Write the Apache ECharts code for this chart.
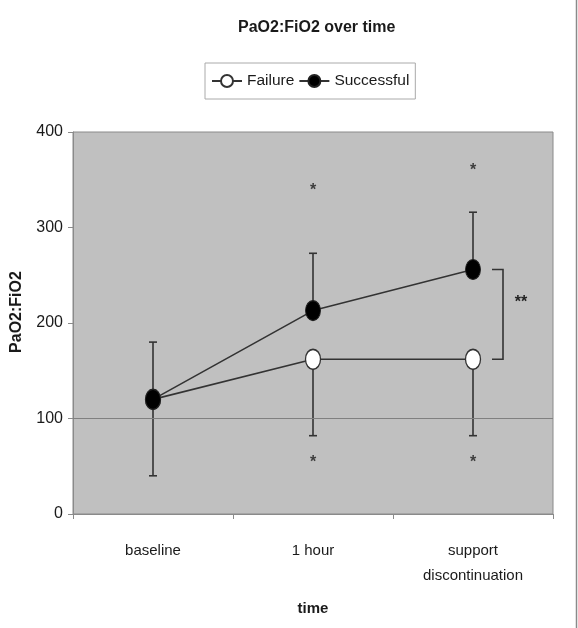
<!DOCTYPE html>
<html><head><meta charset="utf-8">
<script src="https://cdn.jsdelivr.net/npm/echarts@6/dist/echarts.min.js"></script>
<style>html,body{margin:0;padding:0;background:#fff}#c{width:578px;height:628px}</style>
</head><body><div id="c"></div>
<script>
var categories = ['baseline', '1 hour', 'support\ndiscontinuation'];
var failure = [120, 162, 162];
var successful = [120, 213, 256];
var failureSD = [80, 80, 80];      // lower error bar
var successfulSD = [60, 60, 60];   // upper error bar
var starTop = [null, 343, 364];
var starBottom = [null, 58, 58];
var yTicks = [0, 100, 200, 300, 400];
var bracket = [2, 256, 162];

var FONT = 'Liberation Sans, Arial, sans-serif';
var ELLIPSE = 'path://M0,-1A1,1,0,1,1,0,1A1,1,0,1,1,0,-1Z';

var errData = [];
for (var i = 0; i < categories.length; i++) {
  errData.push([i, successful[i], successful[i] + successfulSD[i], 'up']);
  errData.push([i, failure[i], failure[i] - failureSD[i], 'down']);
}
var starData = [];
for (var j = 0; j < categories.length; j++) {
  if (starTop[j] != null) starData.push([j, starTop[j]]);
  if (starBottom[j] != null) starData.push([j, starBottom[j]]);
}

var chart = echarts.init(document.getElementById('c'), null, {renderer: 'canvas'});
chart.setOption({
  animation: false,
  textStyle: {fontFamily: FONT},
  title: {
    text: 'PaO2:FiO2 over time', left: 233, top: 15,
    textStyle: {fontFamily: FONT, fontSize: 16, fontWeight: 'bold', color: '#1a1a1a'}
  },
  legend: {
    top: 63, left: 205,
    data: ['Failure', 'Successful'],
    borderColor: '#aaa', borderWidth: 1, padding: [10, 6],
    itemGap: 4, itemWidth: 30, itemHeight: 15,
    textStyle: {fontFamily: FONT, fontSize: 15.5, color: '#1a1a1a'}
  },
  graphic: [{
    type: 'line', shape: {x1: 576.5, y1: 0, x2: 576.5, y2: 628},
    style: {stroke: '#8a8a8a', lineWidth: 1.5}, silent: true
  }],
  grid: {
    left: 73, right: 25, top: 132, bottom: 114,
    show: true, backgroundColor: '#c0c0c0', borderColor: '#8a8a8a', borderWidth: 1
  },
  xAxis: {
    type: 'category', data: categories, boundaryGap: true,
    name: 'time', nameLocation: 'middle', nameGap: 87,
    nameTextStyle: {fontFamily: FONT, fontSize: 15, fontWeight: 'bold', color: '#1a1a1a'},
    axisLine: {lineStyle: {color: '#8a8a8a'}},
    axisTick: {show: true, length: 5, interval: 0, lineStyle: {color: '#8a8a8a'}},
    axisLabel: {fontFamily: FONT, fontSize: 15, color: '#1a1a1a', margin: 24, lineHeight: 25, interval: 0}
  },
  yAxis: {
    type: 'value', min: yTicks[0], max: yTicks[yTicks.length - 1], interval: 100,
    name: 'PaO2:FiO2', nameLocation: 'middle', nameGap: 48, nameRotate: 90,
    nameTextStyle: {fontFamily: FONT, fontSize: 16, fontWeight: 'bold', color: '#1a1a1a', padding: [0, 0, 0, 22]},
    axisLine: {show: true, lineStyle: {color: '#8a8a8a'}},
    axisTick: {show: true, length: 5, lineStyle: {color: '#8a8a8a'}},
    splitLine: {show: false},
    axisLabel: {fontFamily: FONT, fontSize: 16, color: '#1a1a1a', margin: 10}
  },
  series: [
    {
      type: 'custom', name: 'err', z: 1, silent: true,
      data: errData,
      renderItem: function (params, api) {
        var p0 = api.coord([api.value(0), api.value(1)]);
        var p1 = api.coord([api.value(0), api.value(2)]);
        var cap = 4;
        var st = {stroke: '#333', lineWidth: 1.6};
        return {type: 'group', children: [
          {type: 'line', shape: {x1: p0[0], y1: p0[1], x2: p1[0], y2: p1[1]}, style: st},
          {type: 'line', shape: {x1: p1[0] - cap, y1: p1[1], x2: p1[0] + cap, y2: p1[1]}, style: st}
        ]};
      }
    },
    {
      type: 'custom', name: 'bracket', z: 1, silent: true,
      data: [bracket],
      renderItem: function (params, api) {
        var a = api.coord([api.value(0), api.value(1)]);
        var b = api.coord([api.value(0), api.value(2)]);
        var x0 = a[0] + 19, x1 = a[0] + 30;
        var st = {stroke: '#333', lineWidth: 1.6, fill: null};
        return {type: 'group', children: [
          {type: 'polyline', shape: {points: [[x0, a[1]], [x1, a[1]], [x1, b[1]], [x0, b[1]]]}, style: st},
          {type: 'text', style: {text: '**', x: x1 + 18, y: (a[1] + b[1]) / 2 - 12,
            align: 'center', verticalAlign: 'middle', fontSize: 16, fontWeight: 'bold', fontFamily: FONT, fill: '#222'}}
        ]};
      }
    },
    {
      type: 'scatter', name: 'stars', z: 1, silent: true, symbolSize: 0,
      data: starData,
      label: {show: true, position: 'inside', formatter: '*', fontSize: 16, fontWeight: 'bold', color: '#1a1a1a', fontFamily: FONT, offset: [0, 4]}
    },
    {
      type: 'line', name: 'Failure', data: failure, z: 3,
      symbol: ELLIPSE, symbolSize: [15, 20], showSymbol: true,
      lineStyle: {color: '#333', width: 1.6},
      itemStyle: {color: '#fff', borderColor: '#333', borderWidth: 1.5},
      markLine: {
        silent: true, symbol: 'none', label: {show: false},
        lineStyle: {color: '#808080', width: 1, type: 'solid'},
        data: [{yAxis: 100}]
      }
    },
    {
      type: 'line', name: 'Successful', data: successful, z: 4,
      symbol: ELLIPSE, symbolSize: [15, 20], showSymbol: true,
      lineStyle: {color: '#333', width: 1.6},
      itemStyle: {color: '#000', borderColor: '#222', borderWidth: 1}
    }
  ]
});
</script></body></html>
